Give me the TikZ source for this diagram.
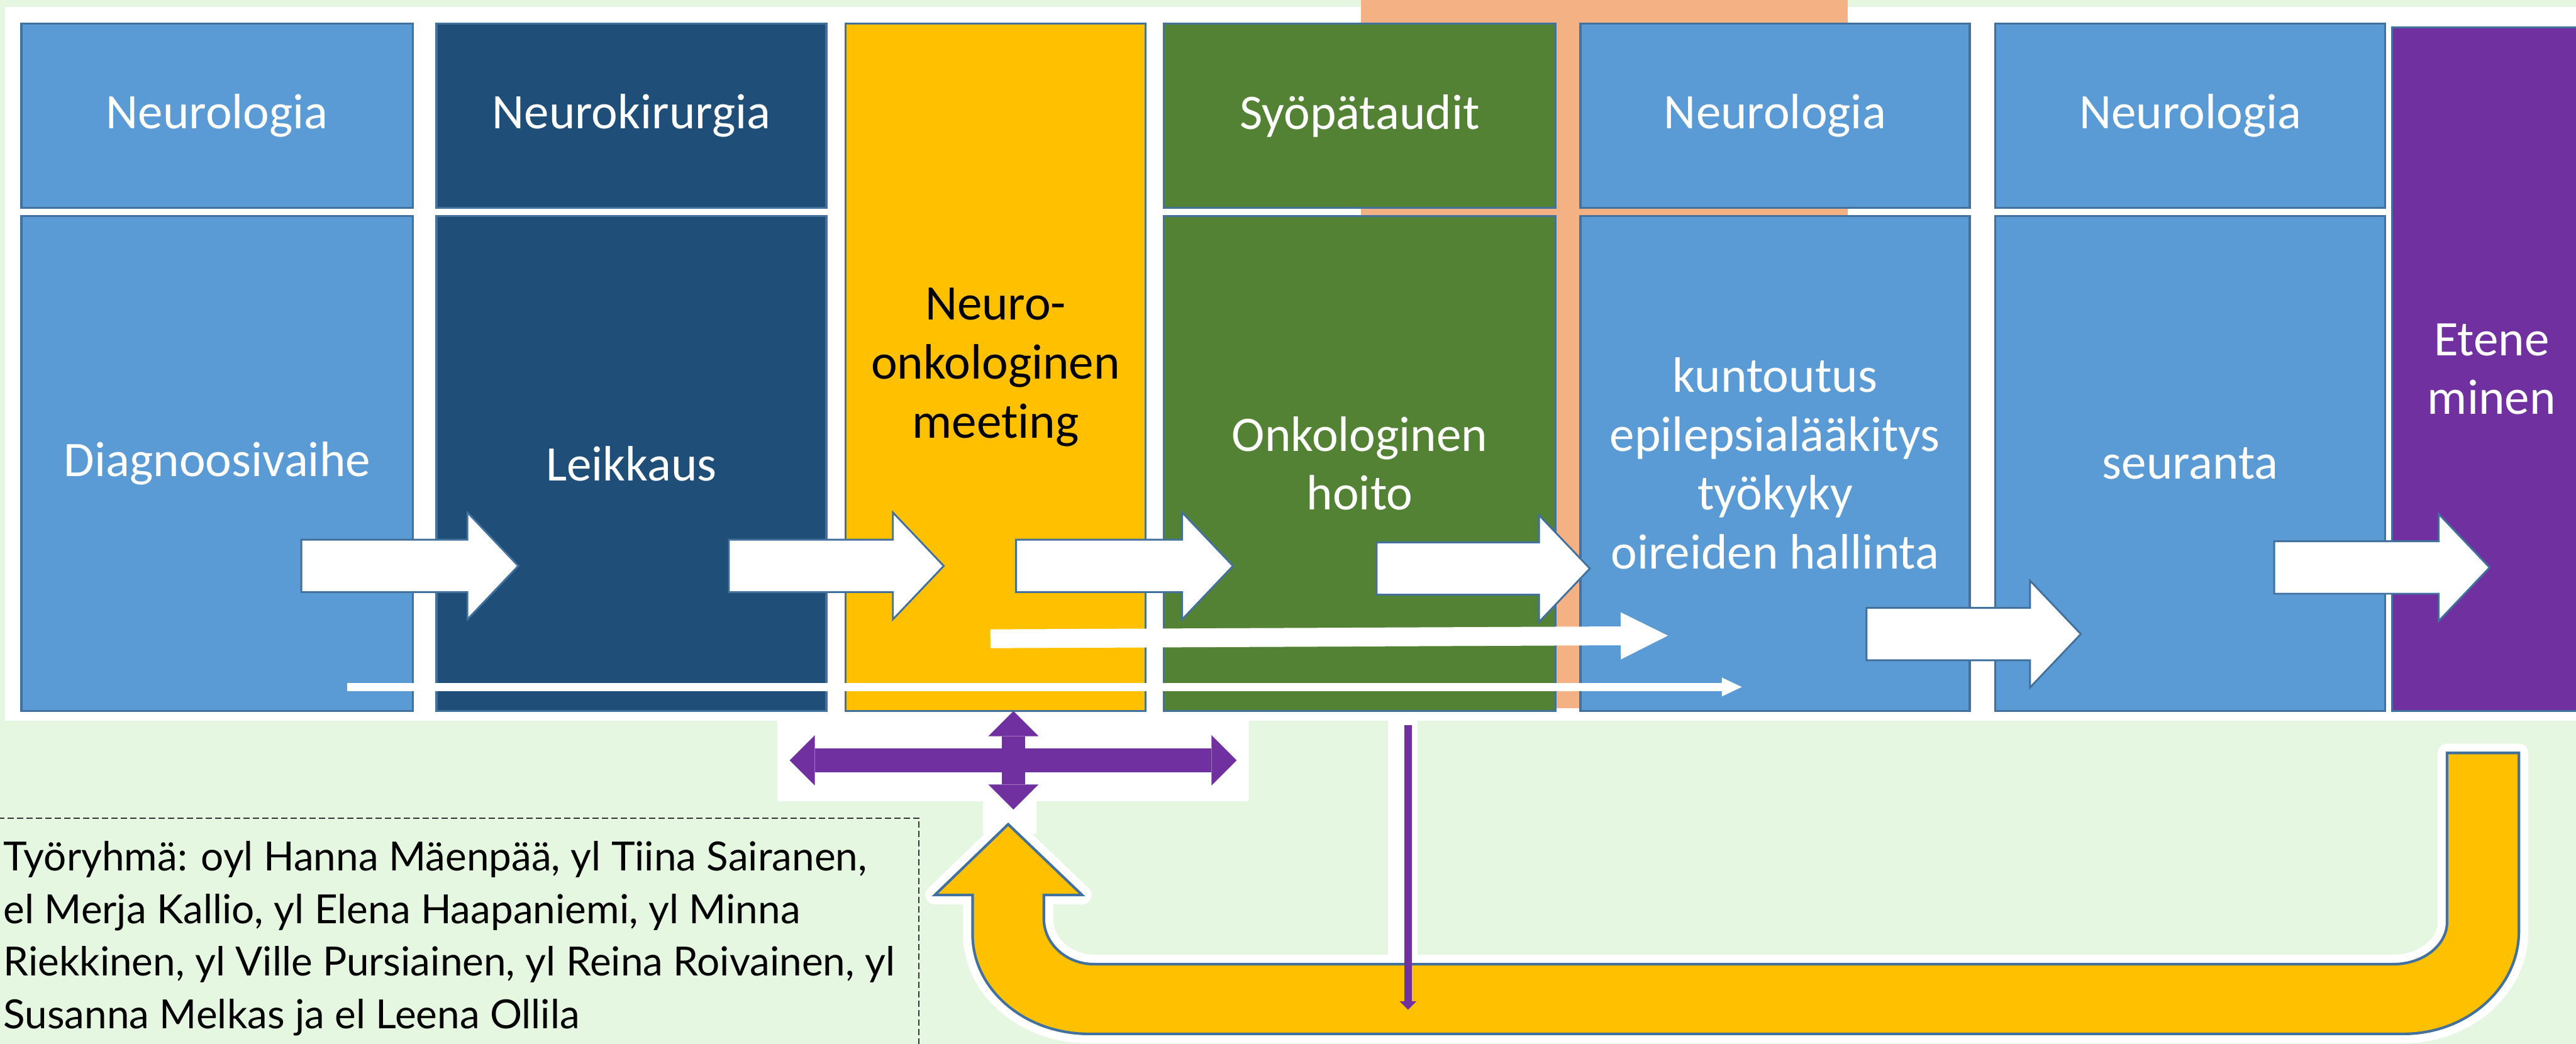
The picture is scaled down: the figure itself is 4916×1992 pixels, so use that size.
\documentclass[tikz,border=0pt]{standalone}
\usepackage{fontspec}
\setmainfont{Carlito}[Ligatures=NoCommon]
\newfontfamily\tyofont{Lato}
\usetikzlibrary{arrows.meta,positioning,calc}
\definecolor{hoitoLightBlue}{RGB}{91,155,213}
\definecolor{hoitoDarkBlue}{RGB}{31,78,121}
\definecolor{hoitoYellow}{RGB}{255,192,0}
\definecolor{hoitoGreen}{RGB}{84,130,53}
\definecolor{hoitoPurple}{RGB}{112,48,160}
\definecolor{hoitoSalmon}{RGB}{244,177,131}
\definecolor{hoitoEdge}{RGB}{65,113,156}
\definecolor{hoitoMint}{RGB}{230,247,225}

% white block arrow from tail #1 to tip #2
\newcommand{\blockarrow}[2]{%
  \draw[blockarr] ($(#1)+(0,50)$) -- ($(#2)+(-97,50)$) -- ($(#2)+(-97,102)$) -- (#2)
    -- ($(#2)+(-97,-102)$) -- ($(#2)+(-97,-50)$) -- ($(#1)+(0,-50)$) -- cycle;}

\begin{document}
\begin{tikzpicture}[x=0.1mm,y=0.1mm,
  box/.style={draw=hoitoEdge,line width=0.4mm,inner sep=0pt,outer sep=0pt,align=center,text=white,
    font=\fontsize{27pt}{32pt}\selectfont},
  headbox/.style={box,minimum height=35.2mm},
  bodybox/.style={box,minimum height=94.5mm},
  blockarr/.style={fill=white,draw=hoitoEdge,line width=0.35mm,line join=miter},
  longarrow/.style={white,line width=3.6mm,-{Triangle[length=9mm,width=9mm,line width=0pt]}},
  thinarrow/.style={white,line width=1.6mm,-{Triangle[length=3.8mm,width=3.6mm,line width=0pt]}},
  crossarrow/.style={hoitoPurple,line width=4.6mm,
    {Triangle[length=4.8mm,width=9.6mm,line width=0pt]}-{Triangle[length=4.8mm,width=9.6mm,line width=0pt]}},
  pinarrow/.style={hoitoPurple,line width=1.4mm,-{Triangle[length=1.6mm,width=3.2mm,line width=0pt]}},
  returnarrow/.style={fill=hoitoYellow,draw=hoitoEdge,line width=0.5mm,line join=miter,
    preaction={draw=white,line width=3.6mm,line join=round}},
  credits/.style={inner sep=0pt,align=left,font=\tyofont\fontsize{21.8pt}{28.5pt}\selectfont},
  frame/.style={draw=black!80,line width=0.25mm,dash pattern=on 1.2mm off 0.6mm}
]
  \useasboundingbox (0,0) rectangle (4916,1992);
  \fill[hoitoMint] (0,0) rectangle (4916,1992);
  \fill[white] (10,617) rectangle (4916,1979);
  \fill[hoitoSalmon] (2597,640) rectangle (3526,1992);
  % white patches under the arrows
  \fill[white] (1483,463) rectangle (2384,617);
  \fill[white] (1876,400) rectangle (1978,463);
  \fill[white] (2649,162) rectangle (2705,617);

  % columns
  \node[headbox,fill=hoitoLightBlue,minimum width=74.7mm,anchor=north west] (neuro1) at (41,1947) {Neurologia};
  \node[bodybox,fill=hoitoLightBlue,minimum width=74.7mm,below=1.5mm of neuro1] (diag) {Diagnoosivaihe};
  \node[headbox,fill=hoitoDarkBlue,minimum width=74.4mm,right=4.5mm of neuro1] (kir) {Neurokirurgia};
  \node[bodybox,fill=hoitoDarkBlue,minimum width=74.4mm,below=1.5mm of kir] (leik) {Leikkaus};
  \node[box,fill=hoitoYellow,text=black,minimum width=57.2mm,minimum height=131.2mm,
    right=3.7mm of kir.north east,anchor=north west] (meet) {Neuro-\\onkologinen\\meeting};
  \node[headbox,fill=hoitoGreen,minimum width=74.8mm,right=3.5mm of meet.north east,anchor=north west] (syopa) {Syöpätaudit};
  \node[bodybox,fill=hoitoGreen,minimum width=74.8mm,below=1.5mm of syopa] (onko) {Onkologinen\\hoito};
  \node[headbox,fill=hoitoLightBlue,minimum width=74.3mm,right=4.7mm of syopa] (neuro2) {Neurologia};
  \node[bodybox,fill=hoitoLightBlue,minimum width=74.3mm,below=1.5mm of neuro2] (kunto) {kuntoutus\\epilepsialääkitys\\työkyky\\oireiden hallinta};
  \node[headbox,fill=hoitoLightBlue,minimum width=74.4mm,right=4.9mm of neuro2] (neuro3) {Neurologia};
  \node[bodybox,fill=hoitoLightBlue,minimum width=74.4mm,below=1.5mm of neuro3] (seur) {seuranta};
  \node[box,fill=hoitoPurple,minimum width=38mm,minimum height=130.5mm,
    right=1.3mm of seur.south east,anchor=south west] (etene) {Etene\\minen};

  % arrow ends
  \coordinate (diagOut) at (575,912);  \coordinate (leikIn) at (989,912);
  \coordinate (leikOut) at (1391,912); \coordinate (meetIn) at (1801,912);
  \coordinate (meetOut) at (1939,912); \coordinate (onkoIn) at (2353,912);
  \coordinate (onkoOut) at (2627,907); \coordinate (kuntoIn) at (3034,907);
  \coordinate (kuntoOut) at (3562,782); \coordinate (seurIn) at (3971,782);
  \coordinate (seurOut) at (4340,909); \coordinate (eteneIn) at (4751,909);

  \blockarrow{diagOut}{leikIn}
  \blockarrow{leikOut}{meetIn}
  \blockarrow{meetOut}{onkoIn}
  \blockarrow{onkoOut}{kuntoIn}
  \blockarrow{kuntoOut}{seurIn}
  \blockarrow{seurOut}{eteneIn}

  \coordinate (meetLong) at (1890,773); \coordinate (kuntoLong) at (3183,779);
  \coordinate (diagLong) at (663,681);  \coordinate (kuntoEnd) at (3324,681);
  \draw[longarrow] (meetLong) -- (kuntoLong);
  \draw[thinarrow] (diagLong) -- (kuntoEnd);

  % return arrow
  \path[returnarrow] (4807,555) -- (4807,215) .. controls (4807,107) and (4708,19) .. (4587,19)
    -- (2078,19) .. controls (1955,19) and (1856,104) .. (1856,209) -- (1856,284) -- (1784,284)
    -- (1924,419) -- (2065,284) -- (1992,284) -- (1992,239) .. controls (1992,191) and (2035,152) .. (2088,152)
    -- (4567,152) .. controls (4624,152) and (4670,188) .. (4670,233) -- (4670,555) -- cycle;

  % team cross
  \coordinate (crossL) at (1507,541); \coordinate (crossR) at (2360,541);
  \coordinate (crossB) at (1934,447);
  \draw[crossarrow] (crossL) -- (crossR);
  \draw[crossarrow,line width=4.5mm] (meet.south -| crossB) -- (crossB);

  \coordinate (onkoDown) at (2687,608); \coordinate (returnHit) at (2687,65);
  \draw[pinarrow] (onkoDown) -- (returnHit);

  % working group
  \draw[frame] (-20,-20) rectangle (1754,431);
  \node[credits,anchor=north west] (tyo) at (6,387) {Työryhmä: oyl Hanna Mäenpää, yl Tiina Sairanen,\\el Merja Kallio, yl Elena Haapaniemi, yl Minna\\Riekkinen, yl Ville Pursiainen, yl Reina Roivainen, yl\\Susanna Melkas ja el Leena Ollila};
\end{tikzpicture}
\end{document}
